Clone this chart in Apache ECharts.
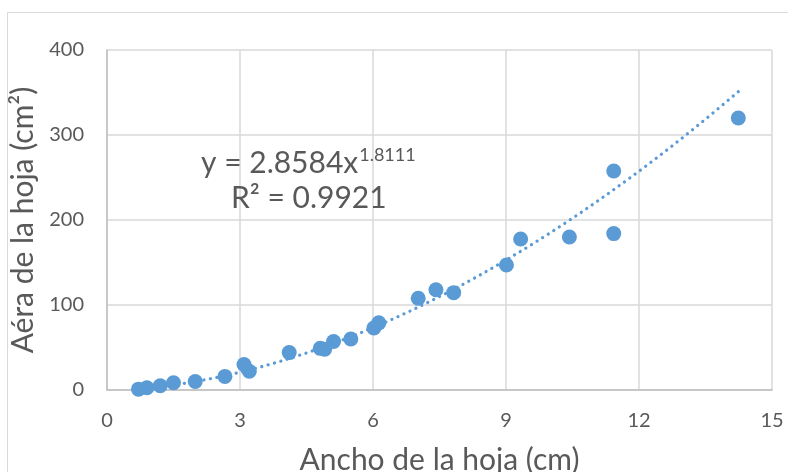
<!DOCTYPE html>
<html>
<head>
<meta charset="utf-8">
<script src="https://cdn.jsdelivr.net/npm/echarts@6/dist/echarts.min.js"></script>
<style>
html,body{margin:0;padding:0;background:#fff;}
#c{width:788px;height:472px;}
</style>
</head>
<body>
<div id="c"></div>
<script>
// Data
var anchoHoja = [0.71, 0.90, 1.20, 1.50, 1.99, 2.66, 3.09, 3.21, 4.11, 4.81, 4.91, 5.11, 5.50, 6.02, 6.13, 7.02, 7.42, 7.82, 9.01, 9.33, 10.43, 11.43, 11.43, 14.24];
var areaHoja  = [1, 2.7, 5, 8.6, 10, 16, 30, 22, 44, 49, 48, 57, 60, 73, 79, 108, 118, 114.5, 147, 177.6, 180, 184, 257.6, 320];
var xTicks = [0, 3, 6, 9, 12, 15];
var yTicks = [0, 100, 200, 300, 400];
// Power trendline shown on the chart: y = 2.8584 x^1.8111
var trendCoef = 2.8584;
var trendExp = 1.8111;
var trendLabel1 = 'y = 2.8584x';
var trendLabelExp = '1.8111';
var trendLabel2 = 'R² = 0.9921';

var points = anchoHoja.map(function(x, i){ return [x, areaHoja[i]]; });
var xMinD = Math.min.apply(null, anchoHoja), xMaxD = Math.max.apply(null, anchoHoja);
var trend = [];
var steps = 80;
for (var k = 0; k <= steps; k++) {
  var xv = xMinD + (xMaxD - xMinD) * k / steps;
  trend.push([xv, trendCoef * Math.pow(xv, trendExp)]);
}

var chart = echarts.init(document.getElementById('c'), null, {renderer: 'canvas'});
var fontFam = 'Lato, "Open Sans", sans-serif';
var gray = '#595959';
chart.setOption({
  animation: false,
  backgroundColor: '#fff',
  grid: {left: 107, right: 16, top: 50, bottom: 82, containLabel: false, outerBoundsMode: 'none'},
  xAxis: {
    type: 'value', min: xTicks[0], max: xTicks[xTicks.length-1], interval: 3,
    name: 'Ancho de la hoja (cm)', nameLocation: 'middle', nameGap: 55,
    nameTextStyle: {fontFamily: fontFam, fontSize: 30, color: gray},
    axisLine: {show: true, lineStyle: {color: '#bfbfbf', width: 1.5}},
    axisTick: {show: false},
    axisLabel: {fontFamily: fontFam, fontSize: 20, color: gray, margin: 21},
    splitLine: {show: true, lineStyle: {color: '#d9d9d9', width: 1.5}}
  },
  yAxis: {
    type: 'value', min: yTicks[0], max: yTicks[yTicks.length-1], interval: 100,
    name: 'Aéra de la hoja (cm²)', nameLocation: 'middle', nameGap: 59,
    nameTextStyle: {fontFamily: fontFam, fontSize: 30, color: gray},
    axisLine: {show: true, lineStyle: {color: '#bfbfbf', width: 1.5}},
    axisTick: {show: false},
    axisLabel: {fontFamily: fontFam, fontSize: 20, color: gray, margin: 23},
    splitLine: {show: true, lineStyle: {color: '#d9d9d9', width: 1.5}}
  },
  graphic: [
    {type: 'rect', shape: {x: 7.5, y: 12.5, width: 800, height: 500}, style: {fill: 'none', stroke: '#d9d9d9', lineWidth: 1}, z: -10, silent: true},
    {type: 'text', left: 201, top: 146, style: {
      rich: {
        a: {fontFamily: fontFam, fontSize: 30, fill: gray},
        b: {fontFamily: fontFam, fontSize: 18, fill: gray, verticalAlign: 'top', padding: [0,0,16,1]}
      },
      text: '{a|' + trendLabel1 + '}{b|' + trendLabelExp + '}'
    }, z: 10},
    {type: 'text', left: 231, top: 183, style: {
      text: trendLabel2, fontFamily: fontFam, fontSize: 30, fill: gray
    }, z: 10}
  ],
  series: [
    {
      type: 'line', data: trend, showSymbol: false, smooth: false,
      lineStyle: {color: '#5B9BD5', width: 3.2, type: [0.1, 6.5], cap: 'round'},
      z: 2, silent: true
    },
    {
      type: 'scatter', data: points, symbolSize: 15,
      itemStyle: {color: '#5B9BD5', opacity: 1},
      z: 3
    }
  ]
});
</script>
</body>
</html>
